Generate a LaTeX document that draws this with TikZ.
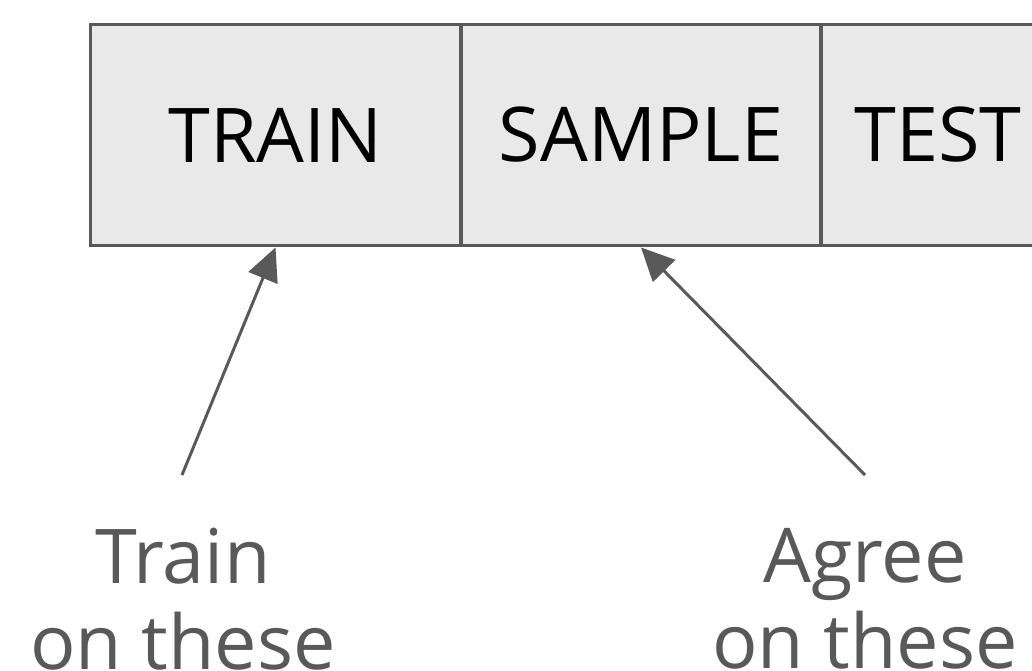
\documentclass[tikz,border=0pt]{standalone}
\usepackage{fontspec}
\setmainfont{Open Sans}
\usetikzlibrary{arrows.meta}
\definecolor{boxfill}{HTML}{E9E9E9}
\definecolor{linegray}{HTML}{595959}

\begin{document}
\begin{tikzpicture}[x=0.02cm, y=-0.02cm,
    cell/.style={shape=rectangle, draw=linegray, fill=boxfill, line width=1.7pt,
        minimum height=4.44cm, inner sep=0pt, font=\fontsize{43}{49}\selectfont},
    note/.style={text=linegray, align=center, inner sep=0pt,
        font=\fontsize{43}{49}\selectfont},
    pointer/.style={draw=linegray, line width=1.7pt,
        -{Triangle[length=0.66cm, width=0.62cm]}}]
                \useasboundingbox (0, 0) rectangle (1032, 670);
                \clip (0, 0) rectangle (1032, 670);
                \node[cell, minimum width=7.42cm] (A) at (275.5, 135) {TRAIN};
                \node[cell, minimum width=7.20cm] (B) at (641, 135) {SAMPLE};
                \node[cell, minimum width=4.68cm] (C) at (938, 135) {TEST};
                \node[note, anchor=north] (D) at (183, 528) {Train\\on these};
                \node[note, anchor=north] (E) at (865, 528) {Agree\\on these};
                \coordinate (F) at (182, 475);
                \coordinate (G) at (865, 475);
                \path[pointer] (F) -- (A.south);
                \path[pointer] (G) -- (B.south);
\end{tikzpicture}
\end{document}
